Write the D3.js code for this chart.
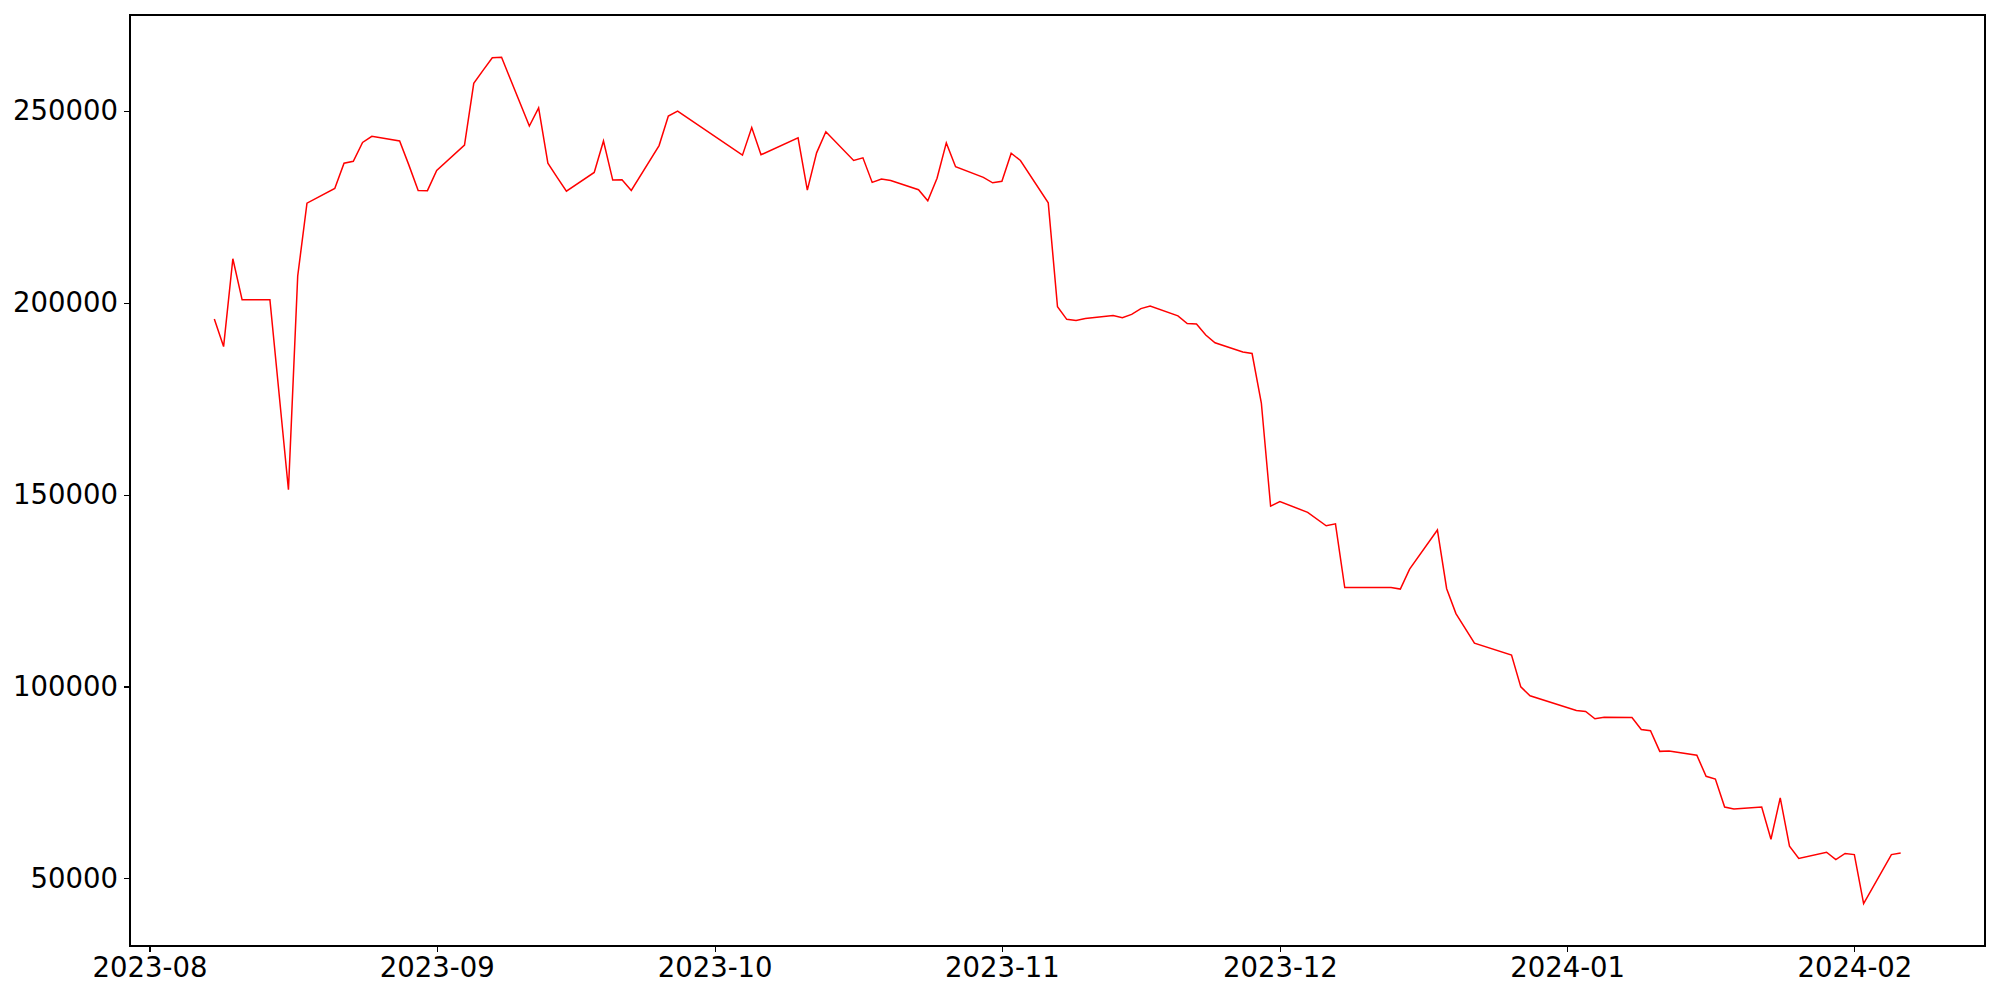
<!DOCTYPE html>
<html>
<head>
<meta charset="utf-8">
<script src="https://cdn.jsdelivr.net/npm/d3@7"></script>
<style>
  body { margin: 0; background: #fff; }
  text { font-family: "DejaVu Sans", sans-serif; }
</style>
</head>
<body>
<div id="chart"></div>
<script>
var dates = [
  "2023-08-08","2023-08-09","2023-08-10","2023-08-11","2023-08-14","2023-08-16","2023-08-17","2023-08-18",
  "2023-08-21","2023-08-22","2023-08-23","2023-08-24","2023-08-25","2023-08-28","2023-08-29","2023-08-30",
  "2023-08-31","2023-09-01","2023-09-04","2023-09-05","2023-09-06","2023-09-07","2023-09-08","2023-09-11",
  "2023-09-12","2023-09-13","2023-09-14","2023-09-15","2023-09-18","2023-09-19","2023-09-20","2023-09-21",
  "2023-09-22","2023-09-25","2023-09-26","2023-09-27","2023-10-04","2023-10-05","2023-10-06","2023-10-10",
  "2023-10-11","2023-10-12","2023-10-13","2023-10-16","2023-10-17","2023-10-18","2023-10-19","2023-10-20",
  "2023-10-23","2023-10-24","2023-10-25","2023-10-26","2023-10-27","2023-10-30","2023-10-31","2023-11-01",
  "2023-11-02","2023-11-03","2023-11-06","2023-11-07","2023-11-08","2023-11-09","2023-11-10","2023-11-13",
  "2023-11-14","2023-11-15","2023-11-16","2023-11-17","2023-11-20","2023-11-21","2023-11-22","2023-11-23",
  "2023-11-24","2023-11-27","2023-11-28","2023-11-29","2023-11-30","2023-12-01","2023-12-04","2023-12-06",
  "2023-12-07","2023-12-08","2023-12-11","2023-12-12","2023-12-13","2023-12-14","2023-12-15","2023-12-18",
  "2023-12-19","2023-12-20","2023-12-22","2023-12-26","2023-12-27","2023-12-28","2024-01-02","2024-01-03",
  "2024-01-04","2024-01-05","2024-01-08","2024-01-09","2024-01-10","2024-01-11","2024-01-12","2024-01-15",
  "2024-01-16","2024-01-17","2024-01-18","2024-01-19","2024-01-22","2024-01-23","2024-01-24","2024-01-25",
  "2024-01-26","2024-01-29","2024-01-30","2024-01-31","2024-02-01","2024-02-02","2024-02-05","2024-02-06"
];

var values = [
  195800, 188600, 211500, 200800, 200800, 151300, 207000, 226000,
  229800, 236400, 236900, 241800, 243400, 242200, 235900, 229300,
  229250, 234500, 241100, 257200, 260600, 263900, 264000, 246100,
  250800, 236400, 232700, 229100, 234000, 242200, 232000, 232100,
  229300, 241000, 248700, 250000, 238500, 245700, 238600, 243000,
  229400, 239100, 244600, 237100, 237800, 231400, 232300, 231900,
  229500, 226600, 232500, 241700, 235500, 232700, 231300, 231700,
  239000, 237100, 226100, 199000, 195700, 195400, 195900, 196700,
  196100, 197000, 198500, 199200, 196600, 194600, 194500, 191600,
  189600, 187200, 186800, 173900, 147000, 148200, 145400, 141900,
  142400, 125800, 125800, 125800, 125800, 125400, 130600, 140800,
  125500, 119000, 111300, 108200, 99900, 97600, 93750, 93500,
  91600, 92000, 91900, 88800, 88500, 83100, 83200, 82100,
  76600, 75900, 68600, 68100, 68600, 60200, 71000, 58400,
  55200, 56800, 54900, 56500, 56200, 43400, 56200, 56600
];

var yTicks = [50000, 100000, 150000, 200000, 250000];
var xTickLabels = ["2023-08","2023-09","2023-10","2023-11","2023-12","2024-01","2024-02"];

var width = 2000;
var height = 1000;
var margin = {top: 15, right: 15, bottom: 54, left: 130};
var innerW = width - margin.left - margin.right;
var innerH = height - margin.top - margin.bottom;

var parse = d3.timeParse("%Y-%m-%d");
var parseMonth = d3.timeParse("%Y-%m");
var data = dates.map(function(d, i) {
  return {date: parse(d), value: values[i]};
});

// matplotlib style 5% margins on both axes
var xExt = d3.extent(data, function(d) { return d.date; });
var xPad = (xExt[1] - xExt[0]) * 0.05;
var yExt = d3.extent(data, function(d) { return d.value; });
var yPad = (yExt[1] - yExt[0]) * 0.05;

var x = d3.scaleTime()
  .domain([new Date(+xExt[0] - xPad), new Date(+xExt[1] + xPad)])
  .range([0, innerW]);

var y = d3.scaleLinear()
  .domain([yExt[0] - yPad, yExt[1] + yPad])
  .range([innerH, 0]);

var svg = d3.select('#chart')
  .append('svg')
  .attr('width', width)
  .attr('height', height)
  .append('g')
  .attr('transform', 'translate(' + margin.left + ',' + margin.top + ')');

var line = d3.line()
  .x(function(d) { return x(d.date); })
  .y(function(d) { return y(d.value); });

svg.append('path')
  .datum(data)
  .attr('fill', 'none')
  .attr('stroke', '#ff0000')
  .attr('stroke-width', 1.5)
  .attr('stroke-linejoin', 'miter')
  .attr('d', line);

var xAxis = svg.append('g')
  .attr('transform', 'translate(0,' + innerH + ')')
  .call(d3.axisBottom(x)
    .tickValues(xTickLabels.map(parseMonth))
    .tickFormat(d3.timeFormat("%Y-%m"))
    .tickSize(6)
    .tickPadding(5)
    .tickSizeOuter(0));

var yAxis = svg.append('g')
  .call(d3.axisLeft(y)
    .tickValues(yTicks)
    .tickFormat(d3.format("d"))
    .tickSize(6.5)
    .tickPadding(5.5)
    .tickSizeOuter(0));

svg.selectAll('.domain').remove();
svg.selectAll('.tick line')
  .attr('stroke', '#000')
  .attr('stroke-width', 1.1)
  .attr('shape-rendering', 'crispEdges');
svg.selectAll('.tick text')
  .attr('fill', '#000')
  .style('font-size', '27.5px')
  .style('font-family', '"DejaVu Sans", sans-serif');

svg.append('rect')
  .attr('x', 0)
  .attr('y', 0)
  .attr('width', innerW)
  .attr('height', innerH)
  .attr('fill', 'none')
  .attr('stroke', '#000')
  .attr('stroke-width', 1.1)
  .attr('shape-rendering', 'crispEdges');
</script>
</body>
</html>
